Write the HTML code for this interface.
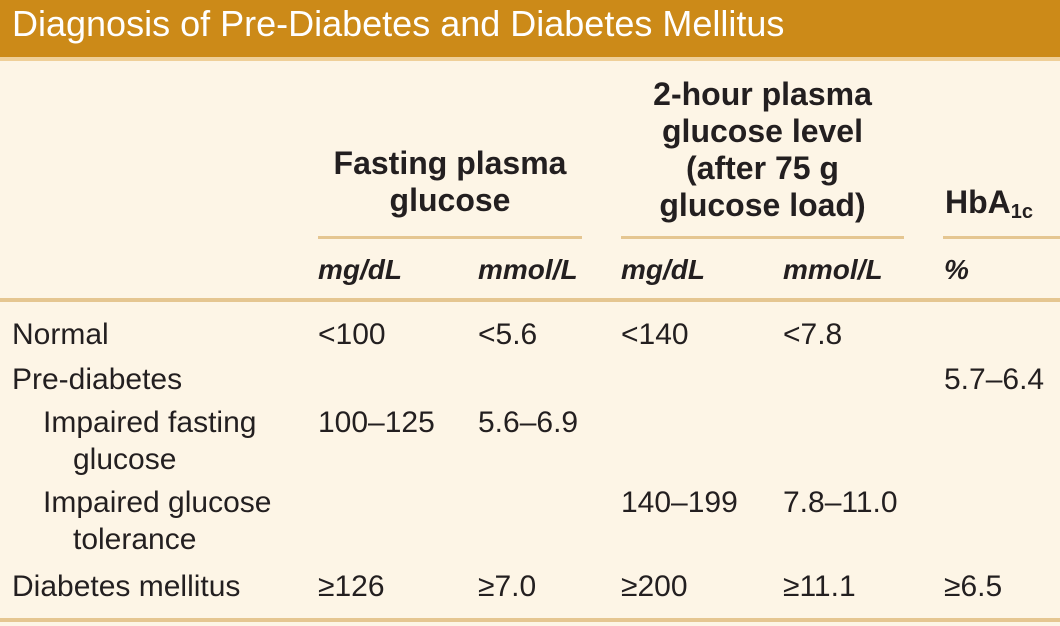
<!DOCTYPE html>
<html><head><meta charset="utf-8"><style>
body{margin:0;width:1060px;height:626px;overflow:hidden;background:#fdf5e6;font-family:"Liberation Sans",sans-serif;color:#231f20;position:relative}
.t{position:absolute;font-size:30px;line-height:30px;white-space:nowrap}
.b{font-weight:bold;font-size:32px}
.i{font-style:italic;font-weight:bold;font-size:28px;line-height:28px}
.c{text-align:center}
.ln{position:absolute;background:#e5c691}
</style></head><body>
<div style="position:absolute;left:0;top:0;width:1060px;height:57px;background:#cc8a18"></div>
<div class="ln" style="left:0;top:57px;width:1060px;height:4px;background:#efcf98"></div>
<div class="t" style="left:12px;top:6px;font-size:36px;line-height:36px;color:#fff">Diagnosis of Pre-Diabetes and Diabetes Mellitus</div>

<div class="t b c" style="left:300px;width:300px;top:145px;line-height:37px">Fasting plasma<br>glucose</div>
<div class="t b c" style="left:600px;width:325px;top:76px;line-height:37px">2-hour plasma<br>glucose level<br>(after 75 g<br>glucose load)</div>
<div class="t b" style="left:945px;top:186px;line-height:32px">HbA<sub style="font-size:20px;vertical-align:-5px">1c</sub></div>

<div class="ln" style="left:318px;top:236px;width:264px;height:3px"></div>
<div class="ln" style="left:621px;top:236px;width:283px;height:3px"></div>
<div class="ln" style="left:943px;top:236px;width:117px;height:3px"></div>

<div class="t i" style="left:318px;top:256px">mg/dL</div>
<div class="t i" style="left:478px;top:256px">mmol/L</div>
<div class="t i" style="left:621px;top:256px">mg/dL</div>
<div class="t i" style="left:783px;top:256px">mmol/L</div>
<div class="t i" style="left:944px;top:256px">%</div>

<div class="ln" style="left:0;top:298px;width:1060px;height:4px"></div>

<div class="t" style="left:12px;top:320px">Normal</div>
<div class="t" style="left:318px;top:320px">&lt;100</div>
<div class="t" style="left:478px;top:320px">&lt;5.6</div>
<div class="t" style="left:621px;top:320px">&lt;140</div>
<div class="t" style="left:783px;top:320px">&lt;7.8</div>

<div class="t" style="left:12px;top:365px">Pre-diabetes</div>
<div class="t" style="left:944px;top:365px">5.7–6.4</div>

<div class="t" style="left:43px;top:408px">Impaired fasting</div>
<div class="t" style="left:73px;top:445px">glucose</div>
<div class="t" style="left:318px;top:408px">100–125</div>
<div class="t" style="left:478px;top:408px">5.6–6.9</div>

<div class="t" style="left:43px;top:488px">Impaired glucose</div>
<div class="t" style="left:73px;top:525px">tolerance</div>
<div class="t" style="left:621px;top:488px">140–199</div>
<div class="t" style="left:783px;top:488px">7.8–11.0</div>

<div class="t" style="left:12px;top:572px">Diabetes mellitus</div>
<div class="t" style="left:318px;top:572px">≥126</div>
<div class="t" style="left:478px;top:572px">≥7.0</div>
<div class="t" style="left:621px;top:572px">≥200</div>
<div class="t" style="left:783px;top:572px">≥11.1</div>
<div class="t" style="left:944px;top:572px">≥6.5</div>

<div class="ln" style="left:0;top:618px;width:1060px;height:4px"></div>
</body></html>
